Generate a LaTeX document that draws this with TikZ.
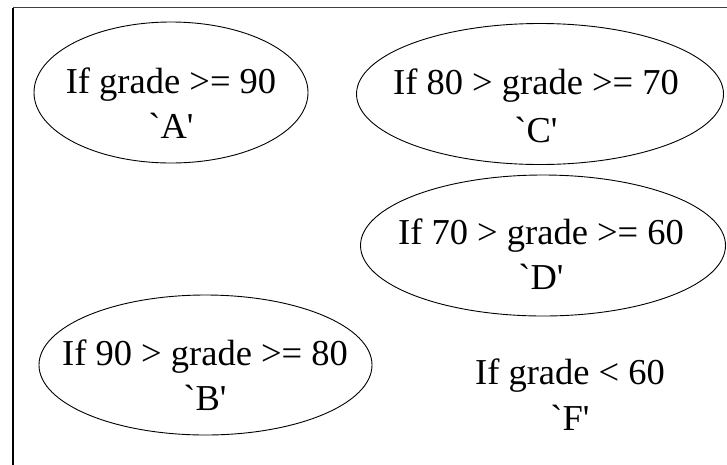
\documentclass[tikz,border=0pt]{standalone}
\usepackage{fontspec}
\newfontfamily\tfont{Liberation Serif}[Ligatures=TeXOff]
\usetikzlibrary{shapes.geometric}
\begin{document}
\begin{tikzpicture}[x=1pt,y=-1pt,
  oval/.style={draw=black, line width=0.9pt, ellipse, inner sep=0pt},
  lbl/.style={anchor=base, inner sep=0pt, font=\tfont\fontsize{36.5}{44}\selectfont}]
\useasboundingbox (0,0) rectangle (727,464);
% frame
\coordinate (fb) at (13,470);
\coordinate (fc) at (13,7.5);
\coordinate (fr) at (735,7.5);
\draw[black!75, line width=1.8pt] (fc) -- (fr);
\draw[black, line width=1.1pt] (fb) -- (fc);
% ellipses
\node[oval, minimum width=274pt, minimum height=141pt] (A) at (171,92.5) {};
\node[oval, minimum width=367pt, minimum height=141pt] (C) at (540,94) {};
\node[oval, minimum width=365pt, minimum height=141pt] (D) at (543,245.5) {};
\node[oval, minimum width=333pt, minimum height=140pt] (B) at (205.5,365) {};
% labels
\node[lbl] (A1) at (171,93) {If grade >= 90};
\node[lbl] (A2) at (171,138) {`A'};
\node[lbl] (C1) at (536,94) {If 80 > grade >= 70};
\node[lbl] (C2) at (536,142) {`C'};
\node[lbl] (D1) at (541,244) {If 70 > grade >= 60};
\node[lbl] (D2) at (541,289) {`D'};
\node[lbl] (B1) at (205,365) {If 90 > grade >= 80};
\node[lbl] (B2) at (205,410) {`B'};
\node[lbl] (F1) at (570,384) {If grade < 60};
\node[lbl] (F2) at (570,430) {`F'};
\end{tikzpicture}
\end{document}
